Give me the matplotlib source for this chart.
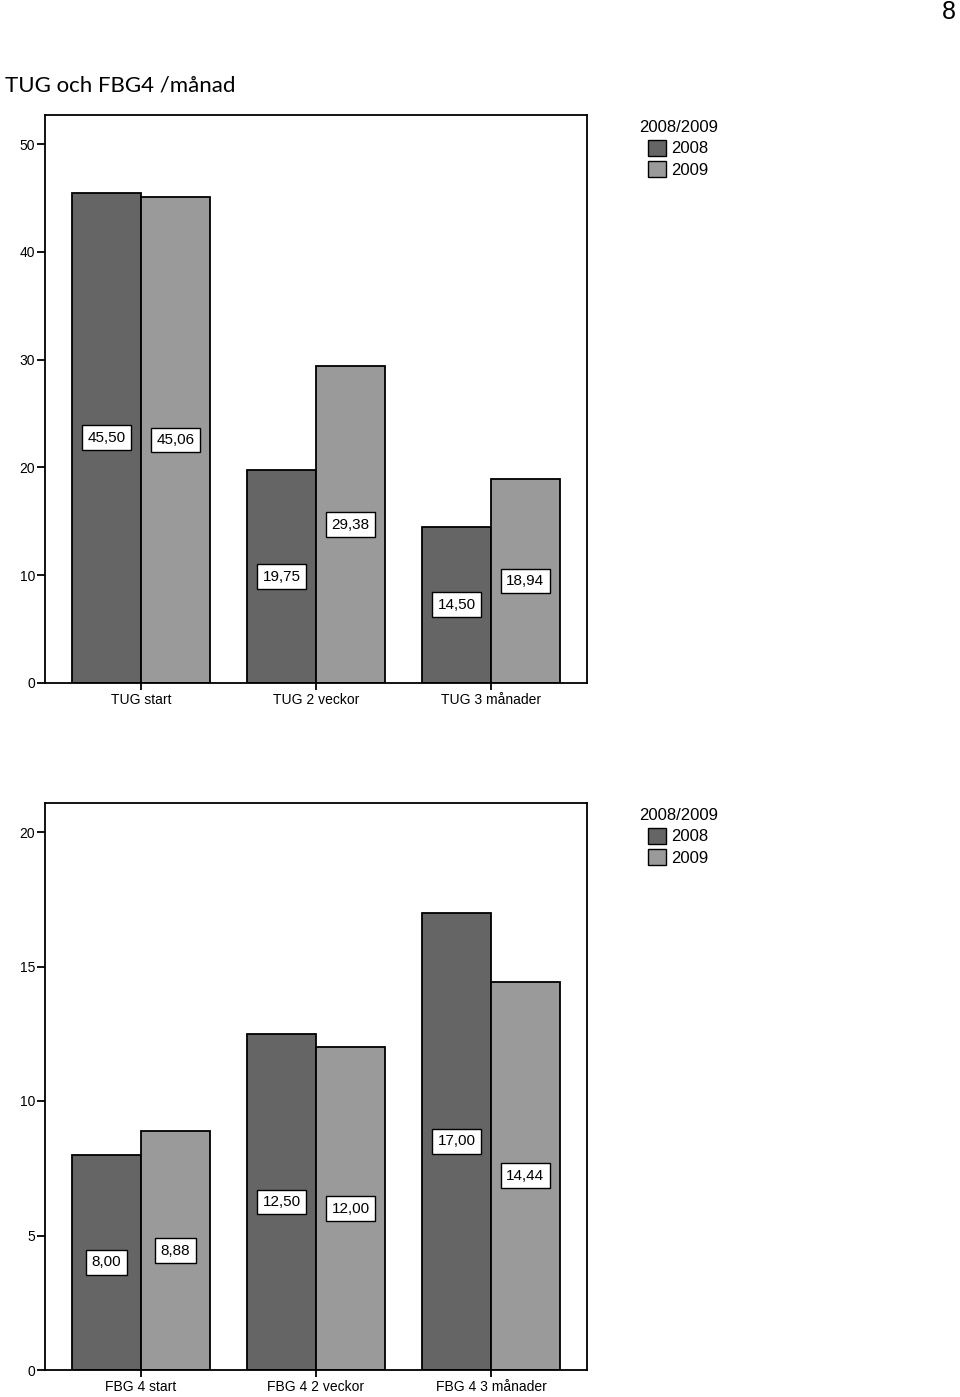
import matplotlib.pyplot as plt
from matplotlib.patches import Patch
import numpy as np

plt.rcParams['font.family'] = ['Liberation Sans', 'DejaVu Sans']

ar = ['2008', '2009']
tug_kategorier = ['TUG start', 'TUG 2 veckor', 'TUG 3 månader']
tug_2008 = [45.50, 19.75, 14.50]
tug_2009 = [45.06, 29.38, 18.94]

fbg_kategorier = ['FBG 4 start', 'FBG 4 2 veckor', 'FBG 4 3 månader']
fbg_2008 = [8.00, 12.50, 17.00]
fbg_2009 = [8.88, 12.00, 14.44]

farger = ['#656565', '#9a9a9a']


def rita(ax, kategorier, v1, v2, ymax, yticks):
    x = np.arange(len(kategorier))
    w = 0.394
    for serie, forskj, farg in [(v1, -w / 2, farger[0]), (v2, w / 2, farger[1])]:
        ax.bar(x + forskj, serie, width=w, color=farg, edgecolor='black', linewidth=1.3)
        for xi, v in zip(x + forskj, serie):
            ax.text(xi, v / 2, f'{v:.2f}'.replace('.', ','), ha='center', va='center',
                    fontsize=11, bbox=dict(boxstyle='square,pad=0.35', fc='white', ec='black', lw=1))
    ax.set_xlim(-0.549, 2.549)
    ax.set_ylim(0, ymax)
    ax.set_yticks(yticks)
    ax.set_xticks(x)
    ax.set_xticklabels(kategorier, fontsize=10)
    ax.tick_params(axis='y', direction='out', length=6, width=1.3, labelsize=10, pad=1)
    ax.tick_params(axis='x', direction='out', length=5, width=1.3, pad=2)
    for s in ax.spines.values():
        s.set_linewidth(1.3)

    handles = [Patch(facecolor=farger[0], edgecolor='black'), Patch(facecolor=farger[1], edgecolor='black')]
    return handles


fig = plt.figure(figsize=(9.6, 13.97), dpi=100)
ax1 = fig.add_axes([45 / 960, 1 - 683 / 1397, 542 / 960, 568 / 1397])
ax2 = fig.add_axes([45 / 960, 1 - 1370 / 1397, 542 / 960, 567 / 1397])

h = rita(ax1, tug_kategorier, tug_2008, tug_2009, 568 / 10.78, [0, 10, 20, 30, 40, 50])
rita(ax2, fbg_kategorier, fbg_2008, fbg_2009, 567 / 26.9, [0, 5, 10, 15, 20])

for topp in [108, 796]:
    leg = fig.legend(h, ar, title='2008/2009', loc='upper left',
                     bbox_to_anchor=(627 / 960, 1 - topp / 1397), frameon=False,
                     fontsize=12, title_fontsize=12, handlelength=1.1, handleheight=1.1,
                     handletextpad=0.3, labelspacing=0.3, borderpad=0.2)

fig.text(5 / 960, 1 - 86 / 1397, 'TUG och FBG4 /månad', fontsize=16, va='center', ha='left',
         family=['Lato', 'DejaVu Sans'])
fig.text(956 / 960, 1 - 12 / 1397, '8', fontsize=18, va='center', ha='right')

plt.savefig('out.png', dpi=100)
